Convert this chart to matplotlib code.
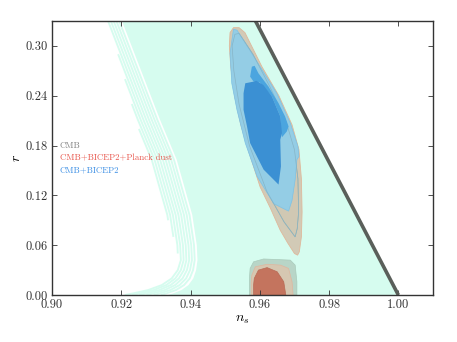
import matplotlib
matplotlib.use('Agg')
import matplotlib.pyplot as plt
import numpy as np

plt.rcParams['font.family'] = ['cmr10', 'DejaVu Serif']
plt.rcParams['mathtext.fontset'] = 'cm'
plt.rcParams['axes.formatter.use_mathtext'] = True

# ---------------- data ----------------
xticks = [0.90, 0.92, 0.94, 0.96, 0.98, 1.00]
xtick_labels = ['0.90', '0.92', '0.94', '0.96', '0.98', '1.00']
yticks = [0.00, 0.06, 0.12, 0.18, 0.24, 0.30]
ytick_labels = ['0.00', '0.06', '0.12', '0.18', '0.24', '0.30']

# boundary line r = 8(1 - n_s)
bound_ns = [0.95875, 1.00]
bound_r = [0.33, 0.00]

# left edge of the solid model (cyan) region, and the stripe spread along it
edge_r = [0.331, 0.211, 0.163, 0.0964, 0.060, 0.042, 0.030, 0.020, 0.012, 0.006, 0.002, 0.0]
edge_ns = [0.9201, 0.9312, 0.9360, 0.9405, 0.9418, 0.9420, 0.9416, 0.9408, 0.9394, 0.9374, 0.9350, 0.9335]
edge_spread = [1.0, 1.0, 1.0, 1.0, 1.0, 1.0, 1.1, 1.3, 1.6, 2.0, 2.4, 2.6]
stripe_offsets = [0.0008, 0.0016, 0.0024, 0.0032, 0.0040, 0.0048, 0.0056, 0.0064, 0.0072]
stripe_rtop = [0.331, 0.331, 0.331, 0.331, 0.331, 0.29, 0.26, 0.23, 0.20]
stripe_rbot = [0.0, 0.0, 0.0, 0.0, 0.0, 0.0, 0.05, 0.07, 0.09]

# CMB (upper, 2 sigma / 1 sigma)
cmb2_ns = [0.9524, 0.9540, 0.9557, 0.9606, 0.9655, 0.9693, 0.9713, 0.9720, 0.9722, 0.9720,
           0.9714, 0.9709, 0.9700, 0.9680, 0.9659, 0.9630, 0.9601, 0.9570, 0.9545, 0.9527,
           0.9516, 0.9512, 0.9514]
cmb2_r = [0.322, 0.322, 0.316, 0.275, 0.240, 0.205, 0.175, 0.140, 0.100, 0.070,
          0.052, 0.048, 0.050, 0.063, 0.078, 0.105, 0.130, 0.170, 0.205, 0.240,
          0.275, 0.300, 0.316]
cmb1_ns = [0.9528, 0.9540, 0.9580, 0.9630, 0.9675, 0.9700, 0.9710, 0.9712, 0.9708, 0.9702,
           0.9670, 0.9620, 0.9570, 0.9540, 0.9525, 0.9520]
cmb1_r = [0.314, 0.315, 0.290, 0.250, 0.210, 0.175, 0.140, 0.100, 0.080, 0.070,
          0.088, 0.125, 0.180, 0.230, 0.270, 0.300]

# CMB+BICEP2 (light blue 2 sigma, mid/dark 1 sigma)
b2_ns = [0.9524, 0.9534, 0.9553, 0.9601, 0.9649, 0.9688, 0.9710, 0.9713, 0.9707, 0.9702,
         0.9693, 0.9683, 0.9640, 0.9592, 0.9558, 0.9534, 0.9519, 0.9514]
b2_r = [0.320, 0.319, 0.307, 0.275, 0.243, 0.207, 0.179, 0.167, 0.163, 0.139,
        0.114, 0.101, 0.110, 0.143, 0.183, 0.223, 0.255, 0.291]
b1a_ns = [0.9572, 0.9577, 0.9585, 0.9596, 0.9625, 0.9654, 0.9673, 0.9683, 0.9678, 0.9664,
          0.9660, 0.9659, 0.9635, 0.9600, 0.9582]
b1a_r = [0.263, 0.275, 0.276, 0.267, 0.251, 0.231, 0.215, 0.203, 0.197, 0.190,
         0.200, 0.215, 0.239, 0.256, 0.257]
b1b_ns = [0.9558, 0.9553, 0.9553, 0.9563, 0.9572, 0.9611, 0.9654, 0.9661, 0.9659, 0.9664,
          0.9659, 0.9635, 0.9610, 0.9590, 0.9582]
b1b_r = [0.255, 0.243, 0.223, 0.203, 0.183, 0.151, 0.133, 0.155, 0.187, 0.195,
         0.215, 0.239, 0.253, 0.258, 0.257]

# lower contours (CMB+BICEP2+Planck dust)
low3_ns = [0.9570, 0.9570, 0.9572, 0.9582, 0.9611, 0.9688, 0.9702, 0.9707, 0.9707]
low3_r = [0.0, 0.020, 0.032, 0.040, 0.0434, 0.042, 0.036, 0.016, 0.0]
low2_ns = [0.9575, 0.9575, 0.9577, 0.9587, 0.9621, 0.9660, 0.9683, 0.9693, 0.9696]
low2_r = [0.0, 0.016, 0.024, 0.034, 0.037, 0.036, 0.032, 0.016, 0.0]
low1_ns = [0.9582, 0.9582, 0.9584, 0.9596, 0.9621, 0.9650, 0.9669, 0.9675]
low1_r = [0.0, 0.012, 0.020, 0.030, 0.033, 0.028, 0.016, 0.0]

legend_labels = ['CMB', 'CMB+BICEP2+Planck dust', 'CMB+BICEP2']
legend_colors = ['#808080', '#e8544a', '#3b8ee4']
legend_r = [0.180, 0.1647, 0.1506]

# ---------------- plot ----------------
fig = plt.figure(figsize=(4.57, 3.42), dpi=100)
ax = fig.add_axes([0.1138, 0.1374, 0.8337, 0.8012])

cyan = '#d6fcef'
reg_ns = list(edge_ns) + [bound_ns[1], bound_ns[0]]
reg_r = list(edge_r) + [bound_r[1], bound_r[0]]
ax.fill(reg_ns, reg_r, color=cyan, lw=0, zorder=1)

# stripes along the left edge
er = np.array(edge_r)[::-1]
en = np.array(edge_ns)[::-1]
es = np.array(edge_spread)[::-1]
for off, rt, rb in zip(stripe_offsets, stripe_rtop, stripe_rbot):
    rp = [rt] + [r for r in edge_r if rb < r < rt] + [rb]
    nsp = np.interp(rp, er, en) - off * np.interp(rp, er, es)
    ax.plot(nsp, rp, color=cyan, lw=1.35, solid_capstyle='butt', zorder=1)

ax.plot(bound_ns, bound_r, color='#5a5f5a', lw=2.6, zorder=2, solid_capstyle='butt')

ax.fill(cmb2_ns, cmb2_r, facecolor='#d2cab6', edgecolor='#dfb89b', lw=0.6, zorder=1.2)
ax.fill(cmb1_ns, cmb1_r, facecolor='#d0c8b3', edgecolor='#aab5a5', lw=0.5, zorder=1.3)
ax.fill(b2_ns, b2_r, facecolor='#94cde5', edgecolor='#7cc2e6', lw=0.5, zorder=1.4)
ax.fill(cmb1_ns, cmb1_r, facecolor='none', edgecolor='#86b4c6', lw=0.5, zorder=1.45)
ax.fill(b1a_ns, b1a_r, facecolor='#4ba5df', edgecolor='none', lw=0, zorder=1.5)
ax.fill(b1b_ns, b1b_r, facecolor='#3b90d3', edgecolor='none', lw=0, zorder=1.6)

ax.fill(low3_ns, low3_r, facecolor='#b8d5c7', edgecolor='#a9cbbb', lw=0.5, zorder=1.2)
ax.fill(low2_ns, low2_r, facecolor='#d6c7b1', edgecolor='#e0b69e', lw=0.5, zorder=1.3)
ax.fill(low1_ns, low1_r, facecolor='#c4745e', edgecolor='#b86a55', lw=0.5, zorder=1.4)

for lab, col, rr in zip(legend_labels, legend_colors, legend_r):
    ax.text(0.9023, rr, lab, color=col, fontsize=6.3, va='center', ha='left')

ax.set_xlim(0.90, 1.01)
ax.set_ylim(0.0, 0.33)
ax.set_xticks(xticks)
ax.set_xticklabels(xtick_labels)
ax.set_yticks(yticks)
ax.set_yticklabels(ytick_labels)
ax.tick_params(direction='in', top=True, right=True, length=3.5, width=0.6,
               labelsize=9, pad=3, colors='#333333', labelcolor='#333333')
for s in ax.spines.values():
    s.set_linewidth(1.0)
    s.set_color('#333333')
ax.set_xlabel('$n_s$', fontsize=10, labelpad=2)
ax.set_ylabel('$r$', fontsize=10, labelpad=2)

fig.savefig('out.png', dpi=100)
